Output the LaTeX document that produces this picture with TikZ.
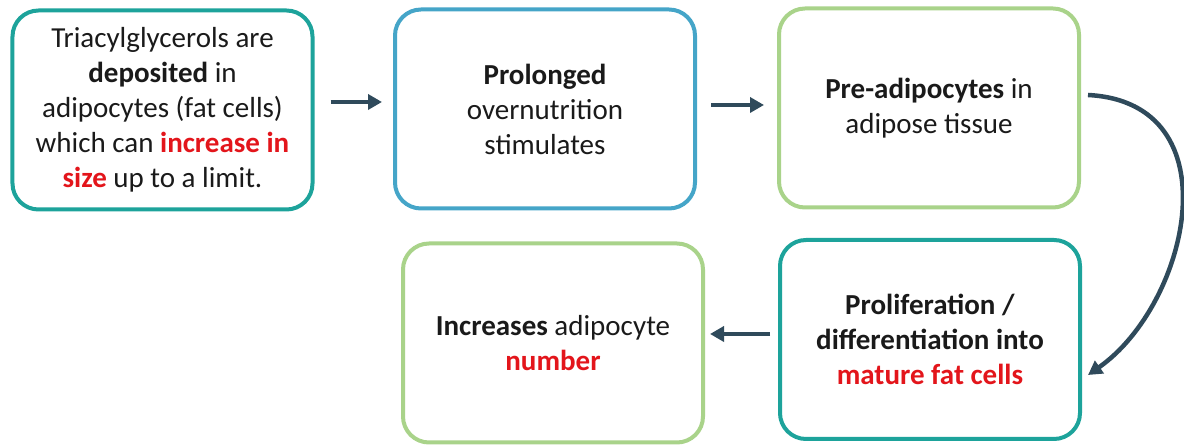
\documentclass[tikz,border=0pt]{standalone}
\usepackage{fontspec}
\setmainfont{Carlito}
\usepackage{tikz}
\usetikzlibrary{arrows.meta,positioning}
\definecolor{tealline}{HTML}{1DA39B}
\definecolor{blueline}{HTML}{45A5C8}
\definecolor{greenline}{HTML}{A9D38A}
\definecolor{arrowcolor}{HTML}{2F4A5B}
\definecolor{bodytext}{HTML}{1A1A1A}
\definecolor{hilite}{HTML}{E3151B}
\tikzset{
  card/.style={draw=#1, line width=4bp, rounded corners=26bp, fill=white,
    minimum width=300bp, minimum height=199bp, inner sep=0pt,
    align=center, text=bodytext, font=\fontsize{29bp}{35bp}\selectfont},
  flow/.style={draw=arrowcolor, line width=4.5bp, -{Triangle[length=14bp,width=15bp]}},
}
\newcommand{\hot}[1]{\textcolor{hilite}{\textbf{#1}}}

\begin{document}
\begin{tikzpicture}[x=1bp,y=1bp]
    \useasboundingbox (0,0) rectangle (1184,448);
    % top row
    \node[card=tealline] (deposit) at (162.5,338) {
        Triacylglycerols are\\
        \textbf{deposited} in\\
        adipocytes (fat cells)\\
        which can \hot{increase in}\\
        \hot{size} up to a limit.
    };
    \node[card=blueline] (overnutrition) at (545,339) {
        \textbf{Prolonged}\\
        overnutrition\\
        stimulates
    };
    \node[card=greenline] (preadipo) at (929,340) {
        \textbf{Pre-adipocytes} in\\
        adipose tissue
    };
    % bottom row
    \node[card=tealline] (prolif) at (930,108.5) {
        \textbf{Proliferation /}\\
        \textbf{differentiation into}\\
        \hot{mature fat cells}
    };
    \node[card=greenline] (number) at (553,105) {
        \textbf{Increases} adipocyte\\
        \hot{number}
    };
    % arrows
    \draw[flow, shorten <=16bp, shorten >=11bp]
        ([yshift=8bp]deposit.east) -- ([yshift=8bp]deposit.east -| overnutrition.west);
    \draw[flow, shorten <=14bp, shorten >=13bp]
        ([yshift=4bp]overnutrition.east) -- ([yshift=4bp]overnutrition.east -| preadipo.west);
    \draw[flow, shorten <=8bp, shorten >=5bp]
        ([yshift=5.5bp]prolif.west) -- ([yshift=5.5bp]prolif.west -| number.east);
    \draw[flow] ([xshift=7bp,yshift=13bp]preadipo.east)
        to[out=-3, in=35, out distance=147bp, in distance=124bp] ([xshift=6bp,yshift=-35.5bp]prolif.east);
\end{tikzpicture}
\end{document}
